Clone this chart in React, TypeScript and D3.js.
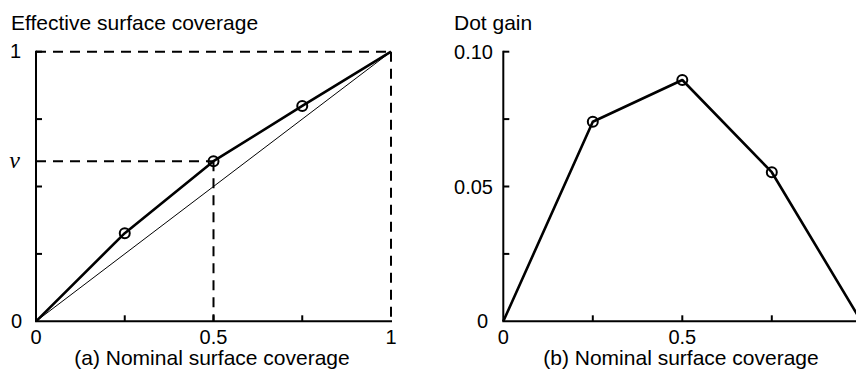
import * as d3 from "d3";

// nominal coverage (x) shared by both panels
const nominal = [0, 0.25, 0.5, 0.75, 1];
// (a) effective surface coverage
const effective = [0, 0.327, 0.594, 0.799, 1];
// (b) dot gain
const dotGain = [0, 0.074, 0.0895, 0.0553, 0];

const xTicks = [0.25, 0.5, 0.75];
const aTicks = [0.25, 0.5, 0.75, 1];
const bTicks = [0.025, 0.05, 0.075, 0.1];

const FONT = "Liberation Sans, Arial, sans-serif";
const TICK = 6;

const PanelA = () => {
  const x = d3.scaleLinear().domain([0, 1]).range([36, 391]);
  const y = d3.scaleLinear().domain([0, 1]).range([321.3, 51.7]);
  const line = d3.line<number>().x((_, i) => x(nominal[i])).y((d) => y(d));
  const v = effective[2];

  return (
    <g>
      <text x={11} y={30} fontSize={21} fontFamily={FONT}>Effective surface coverage</text>
      {/* dashed frame and v guides */}
      <g stroke="#000" strokeWidth={2} strokeDasharray="10 7" fill="none">
        <line x1={x(0)} x2={x(1)} y1={y(1)} y2={y(1)} />
        <line x1={x(1)} x2={x(1)} y1={y(1)} y2={y(0)} />
        <line x1={x(0)} x2={x(0.5)} y1={y(v)} y2={y(v)} />
        <line x1={x(0.5)} x2={x(0.5)} y1={y(v)} y2={y(0)} />
      </g>
      <line x1={x(0)} y1={y(0)} x2={x(1)} y2={y(1)} stroke="#000" strokeWidth={1} />
      {/* axes */}
      <g stroke="#000" strokeWidth={2}>
        <line x1={x(0)} x2={x(0)} y1={y(0)} y2={y(1) - 1} />
        <line x1={x(0) - 1} x2={x(1) + 1} y1={y(0)} y2={y(0)} />
        {aTicks.map((t) => (
          <line key={"ya" + t} x1={x(0)} x2={x(0) + TICK} y1={y(t)} y2={y(t)} />
        ))}
        {xTicks.map((t) => (
          <line key={"xa" + t} x1={x(t)} x2={x(t)} y1={y(0)} y2={y(0) - TICK} />
        ))}
      </g>
      <path d={line(effective) ?? ""} fill="none" stroke="#000" strokeWidth={2.6} strokeLinejoin="round" />
      {effective.slice(1, 4).map((d, i) => (
        <circle key={i} cx={x(nominal[i + 1])} cy={y(d)} r={5} fill="none" stroke="#000" strokeWidth={2} />
      ))}
      <g fontSize={20} fontFamily={FONT} textAnchor="end">
        <text x={21} y={y(1) + 6}>1</text>
        <text x={22} y={y(0) + 7}>0</text>
      </g>
      <text x={20} y={y(v) + 7} fontSize={24} fontStyle="italic" fontFamily="Liberation Serif, serif" textAnchor="end">v</text>
      <g fontSize={20} fontFamily={FONT} textAnchor="middle">
        <text x={x(0)} y={344}>0</text>
        <text x={x(0.5)} y={344}>0.5</text>
        <text x={x(1)} y={344}>1</text>
      </g>
      <text x={212} y={365} fontSize={21} fontFamily={FONT} textAnchor="middle">(a) Nominal surface coverage</text>
    </g>
  );
};

const PanelB = () => {
  const x = d3.scaleLinear().domain([0, 1]).range([503.3, 861.3]);
  const y = d3.scaleLinear().domain([0, 0.1]).range([321.3, 51.7]);
  const line = d3.line<number>().x((_, i) => x(nominal[i])).y((d) => y(d));

  return (
    <g>
      <text x={454} y={30} fontSize={21} fontFamily={FONT}>Dot gain</text>
      <g stroke="#000" strokeWidth={2}>
        <line x1={x(0)} x2={x(0)} y1={y(0)} y2={y(0.1) - 1} />
        <line x1={x(0) - 1} x2={x(1) + 1} y1={y(0)} y2={y(0)} />
        {bTicks.map((t) => (
          <line key={"yb" + t} x1={x(0)} x2={x(0) + TICK} y1={y(t)} y2={y(t)} />
        ))}
        {xTicks.map((t) => (
          <line key={"xb" + t} x1={x(t)} x2={x(t)} y1={y(0)} y2={y(0) - TICK} />
        ))}
      </g>
      <path d={line(dotGain) ?? ""} fill="none" stroke="#000" strokeWidth={2.6} strokeLinejoin="round" />
      {dotGain.slice(1, 4).map((d, i) => (
        <circle key={i} cx={x(nominal[i + 1])} cy={y(d)} r={5} fill="none" stroke="#000" strokeWidth={2} />
      ))}
      <g fontSize={20} fontFamily={FONT} textAnchor="end">
        <text x={493} y={y(0.1) + 7}>0.10</text>
        <text x={493} y={y(0.05) + 7}>0.05</text>
        <text x={488} y={y(0) + 7}>0</text>
      </g>
      <g fontSize={20} fontFamily={FONT} textAnchor="middle">
        <text x={x(0)} y={344}>0</text>
        <text x={x(0.5)} y={344}>0.5</text>
      </g>
      <text x={681} y={365} fontSize={21} fontFamily={FONT} textAnchor="middle">(b) Nominal surface coverage</text>
    </g>
  );
};

export default function App() {
  return (
    <svg width={856} height={370} style={{ position: "absolute", left: 0, top: 0, background: "#fff" }}>
      <rect width={856} height={370} fill="#fff" />
      <PanelA />
      <PanelB />
    </svg>
  );
}
